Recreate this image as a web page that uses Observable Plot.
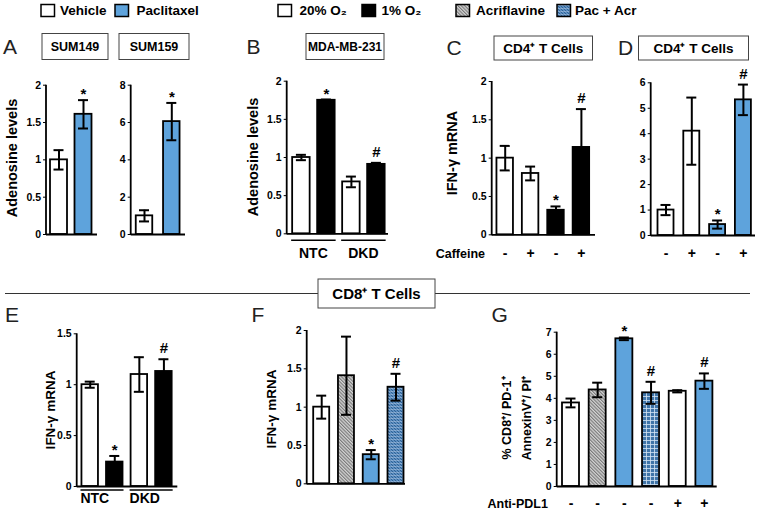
<!DOCTYPE html>
<html><head><meta charset="utf-8">
<script src="https://cdn.jsdelivr.net/npm/d3@7"></script>
<script src="https://cdn.jsdelivr.net/npm/@observablehq/plot@0.6"></script>
<style>
body{margin:0;background:#fff;}
#root{position:relative;width:757px;height:513px;overflow:hidden;background:#fff;}
.pl{position:absolute;}
.pl svg{font-family:"Liberation Sans", Arial, Helvetica, sans-serif;font-weight:bold;overflow:visible;background:transparent;}
.pl svg text{font-family:"Liberation Sans", Arial, Helvetica, sans-serif;font-weight:bold;}
.pl svg g[aria-label="y-axis tick label"] text{font-size:10.5px;}
.pl svg g[aria-label="x-axis tick label"] text{font-size:14px;}
.pl svg g[aria-label="text"] text{font-size:15px;}
</style></head>
<body>
<svg width="0" height="0" style="position:absolute">
<defs>
<pattern id="acr" patternUnits="userSpaceOnUse" width="2.4" height="2.4" patternTransform="rotate(-45)">
  <rect width="2.4" height="2.4" fill="#d4d4d4"/>
  <line x1="0.6" y1="0" x2="0.6" y2="2.4" stroke="#6c6c6c" stroke-width="1"/>
</pattern>
<pattern id="pacacr" patternUnits="userSpaceOnUse" width="3" height="3">
  <rect width="3" height="3" fill="#5b8ec2"/>
  <path d="M0 0L3 3M-1 2L1 4M2 -1L4 1" stroke="#2d5d8c" stroke-width="0.9"/>
  <path d="M0 2.5H3" stroke="#d6e6f5" stroke-width="0.6" opacity="0.6"/>
</pattern>
<pattern id="pacgrid" patternUnits="userSpaceOnUse" width="4" height="4">
  <rect width="4" height="4" fill="#3f74a8"/>
  <path d="M0 0.5H4M0.5 0V4" stroke="#d4e5f5" stroke-width="0.8"/>
</pattern>
</defs></svg>
<div id="root"></div>
<script>
// ---------------- DATA ----------------
const legendLabels = ["Vehicle", "Paclitaxel", "20% O₂", "1% O₂", "Acriflavine", "Pac + Acr"];
const legendFills = ["white", "blue", "white", "black", "acr", "pacacr"];

// Panel A
const aCats = ["Vehicle", "Paclitaxel"];
const aFills = ["white", "blue"];
const aSig = ["", "*"];
const sum149Values = [1.0, 1.61];
const sum149Errors = [0.13, 0.19];
const sum159Values = [1.0, 6.05];
const sum159Errors = [0.3, 1.0];
const a149Ticks = [0, 0.5, 1, 1.5, 2];
const a159Ticks = [0, 2, 4, 6, 8];

// Panel B
const bCats = ["NTC 20% O2", "NTC 1% O2", "DKD 20% O2", "DKD 1% O2"];
const bFills = ["white", "black", "white", "black"];
const bValues = [1.0, 1.75, 0.68, 0.91];
const bErrors = [0.035, 0.01, 0.07, 0.02];
const bSig = ["", "*", "", "#"];
const bTicks = [0, 0.5, 1, 1.5, 2];
const groupLabels = ["NTC", "DKD"];

// Panel C
const cCats = ["20% -", "20% +", "1% -", "1% +"];
const cFills = ["white", "white", "black", "black"];
const cValues = [1.0, 0.80, 0.32, 1.14];
const cErrLow = [0.16, 0.09, 0.05, 0];
const cErrHigh = [0.16, 0.09, 0.05, 0.50];
const cSig = ["", "", "*", "#"];
const caffeineLabels = ["-", "+", "-", "+"];
const cTicks = [0, 0.5, 1, 1.5, 2];

// Panel D
const dCats = ["Veh -", "Veh +", "Pac -", "Pac +"];
const dFills = ["white", "white", "blue", "blue"];
const dValues = [1.0, 4.10, 0.43, 5.33];
const dErrors = [0.2, 1.32, 0.16, 0.6];
const dSig = ["", "", "*", "#"];
const dLabels = ["-", "+", "-", "+"];
const dTicks = [0, 1, 2, 3, 4, 5, 6];

// Panel E
const eCats = ["NTC 20% O2", "NTC 1% O2", "DKD 20% O2", "DKD 1% O2"];
const eFills = ["white", "black", "white", "black"];
const eValues = [1.0, 0.24, 1.10, 1.13];
const eErrors = [0.03, 0.06, 0.17, 0.12];
const eSig = ["", "*", "", "#"];
const eTicks = [0, 0.5, 1, 1.5];

// Panel F
const fCats = ["Vehicle", "Acriflavine", "Paclitaxel", "Pac + Acr"];
const fFills = ["white", "acr", "blue", "pacacr"];
const fValues = [1.0, 1.41, 0.38, 1.26];
const fErrors = [0.15, 0.51, 0.06, 0.175];
const fSig = ["", "", "*", "#"];
const fTicks = [0, 0.5, 1, 1.5, 2];

// Panel G
const gCats = ["Vehicle", "Acriflavine", "Paclitaxel", "Pac + Acr", "Vehicle + anti-PDL1", "Paclitaxel + anti-PDL1"];
const gFills = ["white", "acr", "blue", "pacgrid", "white", "blue"];
const gValues = [3.79, 4.38, 6.70, 4.25, 4.32, 4.78];
const gErrors = [0.2, 0.33, 0.06, 0.5, 0.05, 0.35];
const gSig = ["", "", "*", "#", "", "#"];
const antiPDL1Labels = ["-", "-", "-", "-", "+", "+"];
const gTicks = [0, 1, 2, 3, 4, 5, 6, 7];

// ---------------- STYLE ----------------
const FONT = '"Liberation Sans", Arial, Helvetica, sans-serif';
const BLUE = "#5ea3dc";
const FILL = {white: "white", black: "black", blue: BLUE, acr: "url(#acr)", pacacr: "url(#pacacr)", pacgrid: "url(#pacgrid)"};
const root = document.getElementById("root");

function styledText(sel, size, weight) {
  return sel.style("font-size", size + "px").style("font-weight", weight || "bold").style("font-family", FONT);
}

function makePanel(p) {
  const n = p.cats.length;
  const Lr = p.endX - p.axisX;
  const pi = 1 - p.bw / p.step;
  const po = Math.max(0, (Lr / p.step - n + pi) / 2);
  const outer = Lr - p.step * (n - pi);
  const align = outer > 0 ? Math.min(1, Math.max(0, (p.firstCenter - p.bw / 2 - p.axisX) / outer)) : 0.5;
  const lo = p.errLow, hi = p.errHigh || p.errLow;
  const data = p.cats.map((c, i) => ({
    cat: c, v: p.values[i], lo: p.values[i] - lo[i], hi: p.values[i] + hi[i],
    hasLo: lo[i] > 0, hasHi: hi[i] > 0, fill: p.fills[i], sig: p.sig[i]
  }));
  const inset = Math.max(0, (p.bw - 10) / 2);
  const fillKeys = [...new Set(p.fills)];
  const marks = [
    Plot.axisY({ticks: p.yTicks, tickSize: 3, tickPadding: 2.5, tickFormat: d => String(d), label: null}),
    ...fillKeys.map(k => Plot.barY(data.filter(d => d.fill === k), {x: "cat", y: "v", fill: FILL[k], stroke: "black", strokeWidth: 1.8})),
    Plot.ruleY([0], {stroke: "black", strokeWidth: 1.8}),
    Plot.ruleX(data.filter(d => d.hasLo || d.hasHi), {x: "cat", y1: "lo", y2: "hi", stroke: "black", strokeWidth: 2}),
    Plot.tickY(data.filter(d => d.hasHi), {x: "cat", y: "hi", stroke: "black", strokeWidth: 2, insetLeft: inset, insetRight: inset}),
    Plot.tickY(data.filter(d => d.hasLo), {x: "cat", y: "lo", stroke: "black", strokeWidth: 2, insetLeft: inset, insetRight: inset}),
    Plot.text(data.filter(d => d.sig === "*"), {x: "cat", y: "hi", text: "sig", lineAnchor: "bottom", dy: -1, fontSize: 15}),
    Plot.text(data.filter(d => d.sig === "#"), {x: "cat", y: "hi", text: "sig", lineAnchor: "bottom", dy: -6, fontSize: 15})
  ];
  if (p.xLabels) {
    marks.push(Plot.axisX({tickSize: 0, tickPadding: p.xLabelPad, tickFormat: d => p.xLabels[p.cats.indexOf(d)], fontSize: 14, label: null}));
  }
  const marginLeft = p.axisX - p.left;
  const marginRight = p.left + p.width - p.endX;
  const marginTop = p.yTop - p.top;
  const marginBottom = p.top + p.height - p.y0;
  const plot = Plot.plot({
    width: p.width, height: p.height, marginLeft, marginRight, marginTop, marginBottom,
    style: "background: transparent; overflow: visible; color: black;",
    x: {domain: p.cats, paddingInner: pi, paddingOuter: po, align, round: false, ...(p.xLabels ? {} : {axis: null})},
    y: {domain: p.yDomain},
    marks
  });
  const div = document.createElement("div");
  div.className = "pl";
  div.style.left = p.left + "px";
  div.style.top = p.top + "px";
  div.style.width = p.width + "px";
  div.appendChild(plot);
  root.appendChild(div);

  const xs = plot.scale("x"), ys = plot.scale("y");
  const svg = d3.select(plot);
  const ax = xs.range[0];
  svg.append("line").attr("x1", ax).attr("x2", ax)
    .attr("y1", ys.apply(p.yDomain[0]) + 0.9).attr("y2", ys.apply(p.yDomain[1]))
    .attr("stroke", "black").attr("stroke-width", 1.8);
  if (p.yLabel) {
    p.yLabel.forEach((line, i) => {
      styledText(svg.append("text")
        .attr("transform", `translate(${p.yLabelX[i] - p.left},${p.yLabelY - p.top}) rotate(-90)`)
        .attr("text-anchor", "middle").attr("dominant-baseline", "central"), p.yLabelSize)
        .text(line);
    });
  }
  if (p.groups) {
    const y0 = ys.apply(0);
    p.groups.forEach(g => {
      const x1 = xs.apply(g.cats[0]), x2 = xs.apply(g.cats[g.cats.length - 1]) + xs.bandwidth;
      svg.append("line").attr("x1", x1 - 1).attr("x2", x2 + 1)
        .attr("y1", y0 + p.groupLineDy).attr("y2", y0 + p.groupLineDy)
        .attr("stroke", "black").attr("stroke-width", 1.4);
      styledText(svg.append("text")
        .attr("x", p.groupAnchor === "start" ? x1 - 1 : (x1 + x2) / 2)
        .attr("y", y0 + p.groupTextDy)
        .attr("text-anchor", p.groupAnchor || "middle").attr("dominant-baseline", "central"), 14)
        .text(g.label);
    });
  }
  return plot;
}

// Panel A - SUM149
makePanel({left: 0, top: 70, width: 100, height: 174, axisX: 46, endX: 97, yTop: 84.7, y0: 234,
  firstCenter: 58.5, step: 24.5, bw: 17, cats: aCats, values: sum149Values, errLow: sum149Errors,
  fills: aFills, sig: aSig, yDomain: [0, 2], yTicks: a149Ticks,
  yLabel: ["Adenosine levels"], yLabelX: [12], yLabelY: 158, yLabelSize: 14.5});
// Panel A - SUM159
makePanel({left: 100, top: 70, width: 88, height: 174, axisX: 130.7, endX: 185, yTop: 84.7, y0: 234,
  firstCenter: 144, step: 27.3, bw: 16.5, cats: aCats, values: sum159Values, errLow: sum159Errors,
  fills: aFills, sig: aSig, yDomain: [0, 8], yTicks: a159Ticks});
// Panel B
makePanel({left: 230, top: 70, width: 160, height: 195, axisX: 286.7, endX: 388, yTop: 80.7, y0: 233.3,
  firstCenter: 300.9, step: 25, bw: 17.5, cats: bCats, values: bValues, errLow: bErrors,
  fills: bFills, sig: bSig, yDomain: [0, 2], yTicks: bTicks,
  yLabel: ["Adenosine levels"], yLabelX: [252.5], yLabelY: 157, yLabelSize: 14.5,
  groups: [{label: groupLabels[0], cats: bCats.slice(0, 2)}, {label: groupLabels[1], cats: bCats.slice(2, 4)}],
  groupLineDy: 7, groupTextDy: 20});
// Panel C
makePanel({left: 420, top: 70, width: 180, height: 195, axisX: 491.7, endX: 595, yTop: 81, y0: 234.3,
  firstCenter: 504.7, step: 25.4, bw: 16.5, cats: cCats, values: cValues, errLow: cErrLow, errHigh: cErrHigh,
  fills: cFills, sig: cSig, yDomain: [0, 2], yTicks: cTicks, xLabels: caffeineLabels, xLabelPad: 13.5,
  yLabel: ["IFN-γ mRNA"], yLabelX: [451.7], yLabelY: 153, yLabelSize: 14.5});
// Panel D
makePanel({left: 620, top: 70, width: 137, height: 195, axisX: 650.7, endX: 755, yTop: 82.3, y0: 235,
  firstCenter: 665.5, step: 25.8, bw: 16, cats: dCats, values: dValues, errLow: dErrors,
  fills: dFills, sig: dSig, yDomain: [0, 6], yTicks: dTicks, xLabels: dLabels, xLabelPad: 13});
// Panel E
makePanel({left: 30, top: 320, width: 150, height: 193, axisX: 76.7, endX: 177.3, yTop: 333.3, y0: 486,
  firstCenter: 89.7, step: 24.57, bw: 16.5, cats: eCats, values: eValues, errLow: eErrors,
  fills: eFills, sig: eSig, yDomain: [0, 1.5], yTicks: eTicks,
  yLabel: ["IFN-γ mRNA"], yLabelX: [50], yLabelY: 410, yLabelSize: 13.5,
  groups: [{label: groupLabels[0], cats: eCats.slice(0, 2)}, {label: groupLabels[1], cats: eCats.slice(2, 4)}],
  groupLineDy: 4, groupTextDy: 12, groupAnchor: "start"});
// Panel F
makePanel({left: 250, top: 320, width: 160, height: 193, axisX: 306.7, endX: 405, yTop: 330, y0: 483.3,
  firstCenter: 321.2, step: 24.77, bw: 16, cats: fCats, values: fValues, errLow: fErrors,
  fills: fFills, sig: fSig, yDomain: [0, 2], yTicks: fTicks,
  yLabel: ["IFN-γ mRNA"], yLabelX: [271.7], yLabelY: 409, yLabelSize: 13.5});
// Panel G
makePanel({left: 490, top: 320, width: 230, height: 193, axisX: 556.7, endX: 716.7, yTop: 331.7, y0: 486,
  firstCenter: 570.5, step: 26.68, bw: 17, cats: gCats, values: gValues, errLow: gErrors,
  fills: gFills, sig: gSig, yDomain: [0, 7], yTicks: gTicks, xLabels: antiPDL1Labels, xLabelPad: 12,
  yLabel: ["% CD8⁺/ PD-1⁺", "AnnexinV⁺/ PI⁺"], yLabelX: [506.7, 526.7], yLabelY: 418, yLabelSize: 12.5});

// ---------------- ANNOTATIONS ----------------
const ov = d3.select(root).append("svg")
  .attr("width", 757).attr("height", 513)
  .style("position", "absolute").style("left", 0).style("top", 0)
  .style("pointer-events", "none").style("font-family", FONT);

// legend
const swatchX = [41, 115, 278, 362, 456, 557];
const legTextX = [60, 136.5, 299.5, 381.5, 476, 575];
legendLabels.forEach((lab, i) => {
  ov.append("rect").attr("x", swatchX[i]).attr("y", 4.5).attr("width", 13.5).attr("height", 12)
    .attr("fill", FILL[legendFills[i]]).attr("stroke", "black").attr("stroke-width", 1.5);
  styledText(ov.append("text").attr("x", legTextX[i]).attr("y", 15.3), 13.5).text(lab);
});

// panel letters
const letters = [["A", 3, 53.5], ["B", 246.5, 53.5], ["C", 446.5, 55], ["D", 618, 55], ["E", 5, 321.7], ["F", 251.5, 322], ["G", 491.5, 321.7]];
letters.forEach(([t, x, y]) => styledText(ov.append("text").attr("x", x).attr("y", y).attr("fill", "#222"), 21, "normal").text(t));

// title boxes
const titleBoxes = [
  ["SUM149", 42, 33.5, 66, 26, 12.5],
  ["SUM159", 119, 33.5, 70, 26, 12.5],
  ["MDA-MB-231", 306, 33.5, 78, 26, 12],
  ["CD4⁺ T Cells", 494, 36, 98.5, 24, 13.5],
  ["CD4⁺ T Cells", 638.5, 36, 110, 24, 13.5]
];
titleBoxes.forEach(([t, x, y, w, h, fs]) => {
  ov.append("rect").attr("x", x).attr("y", y).attr("width", w).attr("height", h)
    .attr("fill", "white").attr("stroke", "#444").attr("stroke-width", 1);
  styledText(ov.append("text").attr("x", x + w / 2).attr("y", y + h / 2).attr("text-anchor", "middle")
    .attr("dominant-baseline", "central"), fs).text(t);
});

// CD8 separator
ov.append("line").attr("x1", 5).attr("x2", 318).attr("y1", 293.5).attr("y2", 293.5).attr("stroke", "#333").attr("stroke-width", 1);
ov.append("line").attr("x1", 435).attr("x2", 750).attr("y1", 293.5).attr("y2", 293.5).attr("stroke", "#333").attr("stroke-width", 1);
ov.append("rect").attr("x", 318).attr("y", 279).attr("width", 117).attr("height", 29).attr("fill", "white").attr("stroke", "#444").attr("stroke-width", 1);
styledText(ov.append("text").attr("x", 376.5).attr("y", 293.5).attr("text-anchor", "middle").attr("dominant-baseline", "central"), 15).text("CD8⁺ T Cells");

// row labels
styledText(ov.append("text").attr("x", 485).attr("y", 253.5).attr("text-anchor", "end").attr("dominant-baseline", "central"), 12.5).text("Caffeine");
styledText(ov.append("text").attr("x", 487.5).attr("y", 503.5).attr("dominant-baseline", "central"), 12.5).text("Anti-PDL1");
</script>
</body></html>
